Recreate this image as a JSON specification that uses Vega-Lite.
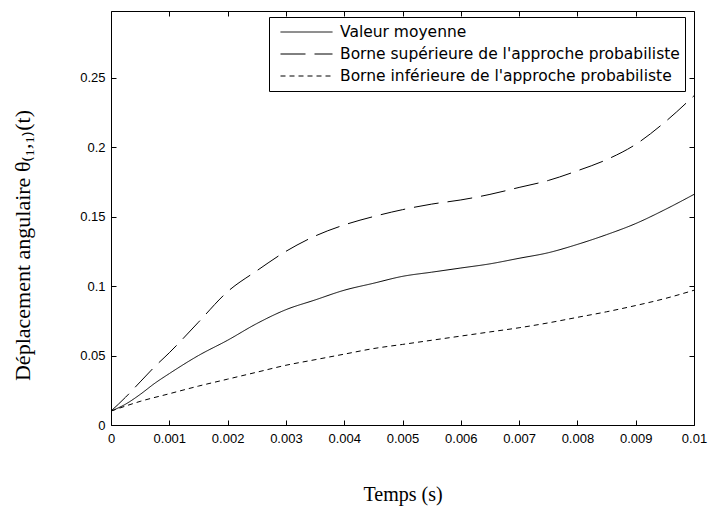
{
  "$schema": "https://vega.github.io/schema/vega-lite/v6.json",
  "autosize": "none",
  "padding": {"left": 111, "top": 11, "right": 14, "bottom": 83},
  "width": 583,
  "height": 414,
  "background": "white",
  "config": {"view": {"stroke": "black", "strokeWidth": 1}, "font": "Liberation Sans"},
  "datasets": {
    "curves": [
      {"t": 0, "v": 0.010, "series": "Valeur moyenne"},
      {"t": 0.00025, "v": 0.015, "series": "Valeur moyenne"},
      {"t": 0.0005, "v": 0.022, "series": "Valeur moyenne"},
      {"t": 0.00075, "v": 0.030, "series": "Valeur moyenne"},
      {"t": 0.001, "v": 0.037, "series": "Valeur moyenne"},
      {"t": 0.0015, "v": 0.050, "series": "Valeur moyenne"},
      {"t": 0.002, "v": 0.061, "series": "Valeur moyenne"},
      {"t": 0.0025, "v": 0.073, "series": "Valeur moyenne"},
      {"t": 0.003, "v": 0.083, "series": "Valeur moyenne"},
      {"t": 0.0035, "v": 0.090, "series": "Valeur moyenne"},
      {"t": 0.004, "v": 0.097, "series": "Valeur moyenne"},
      {"t": 0.0045, "v": 0.102, "series": "Valeur moyenne"},
      {"t": 0.005, "v": 0.107, "series": "Valeur moyenne"},
      {"t": 0.0055, "v": 0.110, "series": "Valeur moyenne"},
      {"t": 0.006, "v": 0.113, "series": "Valeur moyenne"},
      {"t": 0.0065, "v": 0.116, "series": "Valeur moyenne"},
      {"t": 0.007, "v": 0.120, "series": "Valeur moyenne"},
      {"t": 0.0075, "v": 0.124, "series": "Valeur moyenne"},
      {"t": 0.008, "v": 0.130, "series": "Valeur moyenne"},
      {"t": 0.0085, "v": 0.137, "series": "Valeur moyenne"},
      {"t": 0.009, "v": 0.145, "series": "Valeur moyenne"},
      {"t": 0.0095, "v": 0.155, "series": "Valeur moyenne"},
      {"t": 0.01, "v": 0.166, "series": "Valeur moyenne"},
      {"t": 0, "v": 0.010, "series": "Borne supérieure de l'approche probabiliste"},
      {"t": 0.00025, "v": 0.020, "series": "Borne supérieure de l'approche probabiliste"},
      {"t": 0.0005, "v": 0.031, "series": "Borne supérieure de l'approche probabiliste"},
      {"t": 0.00075, "v": 0.042, "series": "Borne supérieure de l'approche probabiliste"},
      {"t": 0.001, "v": 0.052, "series": "Borne supérieure de l'approche probabiliste"},
      {"t": 0.0015, "v": 0.074, "series": "Borne supérieure de l'approche probabiliste"},
      {"t": 0.002, "v": 0.096, "series": "Borne supérieure de l'approche probabiliste"},
      {"t": 0.0025, "v": 0.111, "series": "Borne supérieure de l'approche probabiliste"},
      {"t": 0.003, "v": 0.125, "series": "Borne supérieure de l'approche probabiliste"},
      {"t": 0.0035, "v": 0.136, "series": "Borne supérieure de l'approche probabiliste"},
      {"t": 0.004, "v": 0.144, "series": "Borne supérieure de l'approche probabiliste"},
      {"t": 0.0045, "v": 0.150, "series": "Borne supérieure de l'approche probabiliste"},
      {"t": 0.005, "v": 0.155, "series": "Borne supérieure de l'approche probabiliste"},
      {"t": 0.0055, "v": 0.159, "series": "Borne supérieure de l'approche probabiliste"},
      {"t": 0.006, "v": 0.162, "series": "Borne supérieure de l'approche probabiliste"},
      {"t": 0.0065, "v": 0.166, "series": "Borne supérieure de l'approche probabiliste"},
      {"t": 0.007, "v": 0.171, "series": "Borne supérieure de l'approche probabiliste"},
      {"t": 0.0075, "v": 0.176, "series": "Borne supérieure de l'approche probabiliste"},
      {"t": 0.008, "v": 0.183, "series": "Borne supérieure de l'approche probabiliste"},
      {"t": 0.0085, "v": 0.191, "series": "Borne supérieure de l'approche probabiliste"},
      {"t": 0.009, "v": 0.202, "series": "Borne supérieure de l'approche probabiliste"},
      {"t": 0.0095, "v": 0.218, "series": "Borne supérieure de l'approche probabiliste"},
      {"t": 0.01, "v": 0.237, "series": "Borne supérieure de l'approche probabiliste"},
      {"t": 0, "v": 0.010, "series": "Borne inférieure de l'approche probabiliste"},
      {"t": 0.0005, "v": 0.017, "series": "Borne inférieure de l'approche probabiliste"},
      {"t": 0.001, "v": 0.0225, "series": "Borne inférieure de l'approche probabiliste"},
      {"t": 0.0015, "v": 0.028, "series": "Borne inférieure de l'approche probabiliste"},
      {"t": 0.002, "v": 0.033, "series": "Borne inférieure de l'approche probabiliste"},
      {"t": 0.0025, "v": 0.038, "series": "Borne inférieure de l'approche probabiliste"},
      {"t": 0.003, "v": 0.043, "series": "Borne inférieure de l'approche probabiliste"},
      {"t": 0.0035, "v": 0.047, "series": "Borne inférieure de l'approche probabiliste"},
      {"t": 0.004, "v": 0.051, "series": "Borne inférieure de l'approche probabiliste"},
      {"t": 0.0045, "v": 0.055, "series": "Borne inférieure de l'approche probabiliste"},
      {"t": 0.005, "v": 0.058, "series": "Borne inférieure de l'approche probabiliste"},
      {"t": 0.0055, "v": 0.061, "series": "Borne inférieure de l'approche probabiliste"},
      {"t": 0.006, "v": 0.064, "series": "Borne inférieure de l'approche probabiliste"},
      {"t": 0.0065, "v": 0.067, "series": "Borne inférieure de l'approche probabiliste"},
      {"t": 0.007, "v": 0.070, "series": "Borne inférieure de l'approche probabiliste"},
      {"t": 0.0075, "v": 0.0735, "series": "Borne inférieure de l'approche probabiliste"},
      {"t": 0.008, "v": 0.0775, "series": "Borne inférieure de l'approche probabiliste"},
      {"t": 0.0085, "v": 0.0815, "series": "Borne inférieure de l'approche probabiliste"},
      {"t": 0.009, "v": 0.086, "series": "Borne inférieure de l'approche probabiliste"},
      {"t": 0.0095, "v": 0.091, "series": "Borne inférieure de l'approche probabiliste"},
      {"t": 0.01, "v": 0.097, "series": "Borne inférieure de l'approche probabiliste"}
    ]
  },
  "data": {"name": "curves"},
  "layer": [
    {
      "mark": {"type": "line", "color": "black", "strokeWidth": 1, "interpolate": "monotone"},
      "encoding": {
        "x": {
          "field": "t", "type": "quantitative",
          "scale": {"domain": [0, 0.01], "nice": false, "zero": false},
          "axis": {
            "orient": "bottom",
            "values": [0, 0.001, 0.002, 0.003, 0.004, 0.005, 0.006, 0.007, 0.008, 0.009, 0.01],
            "format": "~g", "grid": false, "domain": false,
            "tickSize": -5, "tickColor": "black", "labelPadding": 12,
            "labelFlush": false, "labelOverlap": false,
            "labelFont": "Liberation Sans", "labelFontSize": 13, "labelColor": "black",
            "title": "Temps (s)", "titleFont": "Liberation Serif", "titleFontSize": 20,
            "titleFontWeight": "normal", "titleColor": "black",
            "titleY": 69, "titleBaseline": "middle"
          }
        },
        "y": {
          "field": "v", "type": "quantitative",
          "scale": {"domain": [0, 0.298], "nice": false, "zero": false},
          "axis": {
            "orient": "left",
            "values": [0, 0.05, 0.1, 0.15, 0.2, 0.25],
            "format": "~g", "grid": false, "domain": false,
            "tickSize": -5, "tickColor": "black", "labelPadding": 11,
            "labelOverlap": false, "labelFlush": false,
            "labelFont": "Liberation Sans", "labelFontSize": 13, "labelColor": "black",
            "title": "Déplacement angulaire θ₍₁,₁₎(t)", "titleFont": "Liberation Serif", "titleFontSize": 22,
            "titleFontWeight": "normal", "titleColor": "black",
            "titleAngle": -90, "titleX": -89, "titleY": 234, "titleBaseline": "middle", "titleAlign": "center"
          }
        },
        "strokeDash": {
          "field": "series", "type": "nominal",
          "scale": {
            "domain": ["Valeur moyenne", "Borne supérieure de l'approche probabiliste", "Borne inférieure de l'approche probabiliste"],
            "range": [[1, 0], [25, 9], [5, 4]]
          },
          "legend": {
            "orient": "none", "legendX": 158, "legendY": 6, "title": null,
            "symbolType": "stroke", "symbolSize": 2704, "symbolStrokeWidth": 1, "symbolStrokeColor": "black",
            "symbolOffset": 6, "clipHeight": 20, "rowPadding": 2, "padding": 5, "labelOffset": 7,
            "labelFont": "DejaVu Sans", "labelFontSize": 15.5, "labelColor": "black", "labelLimit": 0,
            "strokeColor": "black", "fillColor": "white"
          }
        }
      }
    },
    {
      "mark": {"type": "line", "opacity": 0},
      "encoding": {
        "x": {
          "field": "t", "type": "quantitative",
          "axis": {
            "orient": "top",
            "values": [0, 0.001, 0.002, 0.003, 0.004, 0.005, 0.006, 0.007, 0.008, 0.009, 0.01],
            "labels": false, "grid": false, "domain": false, "title": null,
            "tickSize": -5, "tickColor": "black"
          }
        },
        "y": {
          "field": "v", "type": "quantitative",
          "axis": {
            "orient": "right",
            "values": [0, 0.05, 0.1, 0.15, 0.2, 0.25],
            "labels": false, "grid": false, "domain": false, "title": null,
            "tickSize": -5, "tickColor": "black"
          }
        }
      }
    }
  ],
  "resolve": {"axis": {"x": "independent", "y": "independent"}}
}
